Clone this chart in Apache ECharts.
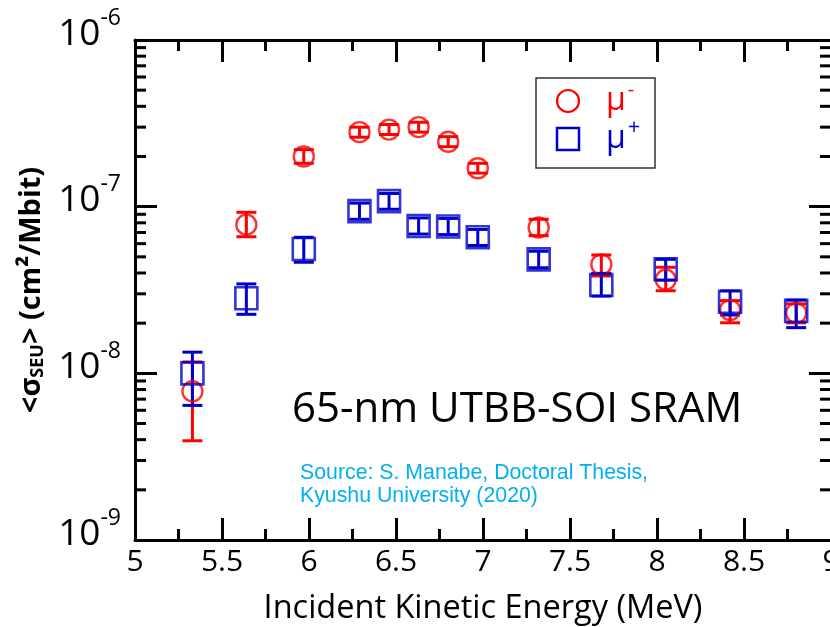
<!DOCTYPE html>
<html>
<head>
<meta charset="utf-8">
<script src="https://cdn.jsdelivr.net/npm/echarts@6/dist/echarts.min.js"></script>
<style>html,body{margin:0;padding:0;background:#fff}#c{width:830px;height:627px}</style>
</head>
<body>
<div id="c"></div>
<script>
// ---- data ----
const energy      = [5.33, 5.64, 5.97, 6.29, 6.46, 6.63, 6.80, 6.97, 7.32, 7.68, 8.05, 8.42, 8.80];
const muMinus     = [7.8e-9, 7.8e-8, 2.0e-7, 2.8e-7, 2.9e-7, 3.0e-7, 2.45e-7, 1.7e-7, 7.5e-8, 4.5e-8, 3.65e-8, 2.4e-8, 2.3e-8];
const muMinusLow  = [3.94e-9, 6.6e-8, 1.82e-7, 2.61e-7, 2.71e-7, 2.8e-7, 2.29e-7, 1.59e-7, 6.7e-8, 3.84e-8, 3.13e-8, 2.01e-8, 2.01e-8];
const muMinusHigh = [1.17e-8, 9.25e-8, 2.2e-7, 3.0e-7, 3.11e-7, 3.21e-7, 2.63e-7, 1.82e-7, 8.4e-8, 5.13e-8, 4.33e-8, 2.73e-8, 2.61e-8];
const muPlus      = [1.0e-8, 2.82e-8, 5.57e-8, 9.4e-8, 1.08e-7, 7.66e-8, 7.6e-8, 6.55e-8, 4.83e-8, 3.39e-8, 4.21e-8, 2.69e-8, 2.37e-8];
const muPlusLow   = [6.42e-9, 2.26e-8, 4.64e-8, 8.4e-8, 9.65e-8, 6.85e-8, 6.8e-8, 5.85e-8, 4.3e-8, 2.91e-8, 3.63e-8, 2.24e-8, 1.88e-8];
const muPlusHigh  = [1.34e-8, 3.44e-8, 6.55e-8, 1.05e-7, 1.2e-7, 8.56e-8, 8.5e-8, 7.3e-8, 5.4e-8, 3.98e-8, 4.83e-8, 3.12e-8, 2.75e-8];
const yMinorTicks = [2,3,4,5,6,7,8,9].flatMap(m => [1e-9, 1e-8, 1e-7].map(d => m * d));
const xMin = 5, xMax = 9, xStep = 0.5;
const yMin = 1e-9, yMax = 1e-6;

const RED = '#ff0000', BLUE = '#0000cc';
const FONT = '"Open Sans", "Noto Sans", sans-serif';

const chart = echarts.init(document.getElementById('c'), null, {renderer: 'canvas'});

function errRender(color) {
  return function (params, api) {
    const x = api.value(0);
    const lo = api.coord([x, api.value(1)]);
    const hi = api.coord([x, api.value(2)]);
    const hw = 10;
    const style = {stroke: color, lineWidth: 3};
    return {type: 'group', children: [
      {type: 'line', shape: {x1: lo[0], y1: lo[1], x2: hi[0], y2: hi[1]}, style},
      {type: 'line', shape: {x1: lo[0]-hw, y1: lo[1], x2: lo[0]+hw, y2: lo[1]}, style},
      {type: 'line', shape: {x1: hi[0]-hw, y1: hi[1], x2: hi[0]+hw, y2: hi[1]}, style}
    ]};
  };
}

const axisLine = {show: true, lineStyle: {color: '#000', width: 3}};
const tickStyle = {color: '#000', width: 3};

chart.setOption({
  animation: false,
  backgroundColor: '#fff',
  grid: {left: 135, top: 40, width: 696, height: 500, containLabel: false, outerBoundsMode: 'none'},
  xAxis: [
    {type: 'value', min: xMin, max: xMax, interval: xStep, position: 'bottom',
     axisLine, axisTick: {inside: true, length: 22, lineStyle: tickStyle},
     minorTick: {show: true, splitNumber: 2, length: 11, lineStyle: tickStyle},
     splitLine: {show: false},
     axisLabel: {fontFamily: FONT, fontSize: 30, color: '#000', margin: 7,
       formatter: v => String(Math.round(v*10)/10)},
     name: 'Incident Kinetic Energy (MeV)', nameLocation: 'middle', nameGap: 52,
     nameTextStyle: {fontFamily: FONT, fontSize: 32.5, color: '#000'}},
    {type: 'value', min: xMin, max: xMax, interval: xStep, position: 'top',
     axisLine, axisTick: {inside: true, length: 22, lineStyle: tickStyle},
     minorTick: {show: true, splitNumber: 2, length: 11, lineStyle: tickStyle},
     splitLine: {show: false}, axisLabel: {show: false}}
  ],
  yAxis: [
    {type: 'log', logBase: 10, min: yMin, max: yMax, position: 'left',
     axisLine, axisTick: {inside: true, length: 22, lineStyle: tickStyle},
     splitLine: {show: false},
     axisLabel: {margin: 14, color: '#000', padding: [0, 0, 12, 0],
       formatter: v => '{b|10}{s|' + Math.round(Math.log10(v)) + '}',
       rich: {b: {fontFamily: FONT, fontSize: 37, color: '#000'},
              s: {fontFamily: FONT, fontSize: 23, color: '#000', padding: [0,0,32,0]}}},
     name: '{a|<σ}{sub|SEU}{a|> (cm²/Mbit)}', nameLocation: 'middle', nameGap: 87, nameRotate: 90,
     nameTextStyle: {rich: {a: {fontFamily: FONT, fontSize: 29, fontWeight: 'bold', color: '#000'},
                            sub: {fontFamily: FONT, fontSize: 18, fontWeight: 'bold', color: '#000', padding: [14,0,0,0]}}}},
    {type: 'log', logBase: 10, min: yMin, max: yMax, position: 'right',
     axisLine, axisTick: {inside: true, length: 22, lineStyle: tickStyle},
     splitLine: {show: false}, axisLabel: {show: false}}
  ],
  series: [
    {type: 'custom', name: 'yminor', silent: true, clip: false,
     data: yMinorTicks.map(v => [xMin, v]),
     renderItem: (params, api) => {
       const l = api.coord([xMin, api.value(1)]);
       const r = api.coord([xMax, api.value(1)]);
       const style = {stroke: '#000', lineWidth: 3};
       return {type: 'group', children: [
         {type: 'line', shape: {x1: l[0], y1: l[1], x2: l[0]+11, y2: l[1]}, style},
         {type: 'line', shape: {x1: r[0], y1: r[1], x2: r[0]-11, y2: r[1]}, style}
       ]};
     }},
    {type: 'custom', name: 'μ- err', silent: true,
     data: energy.map((e, i) => [e, muMinusLow[i], muMinusHigh[i]]),
     renderItem: errRender(RED)},
    {type: 'scatter', name: 'μ-', symbol: 'circle', symbolSize: 20,
     itemStyle: {color: 'rgba(0,0,0,0)', borderColor: RED, borderWidth: 2.4},
     data: energy.map((e, i) => [e, muMinus[i]])},
    {type: 'custom', name: 'μ+ err', silent: true,
     data: energy.map((e, i) => [e, muPlusLow[i], muPlusHigh[i]]),
     renderItem: errRender(BLUE)},
    {type: 'scatter', name: 'μ+', symbol: 'rect', symbolSize: 22,
     itemStyle: {color: 'rgba(0,0,0,0)', borderColor: BLUE, borderWidth: 2.6},
     data: energy.map((e, i) => [e, muPlus[i]])}
  ],
  graphic: [
    {type: 'rect', shape: {x: 536, y: 78, width: 119, height: 90},
     style: {fill: '#fff', stroke: '#333', lineWidth: 1.5}, z: 100},
    {type: 'circle', shape: {cx: 568, cy: 101, r: 11},
     style: {fill: 'none', stroke: RED, lineWidth: 2.2}, z: 101},
    {type: 'rect', shape: {x: 557, y: 128, width: 22, height: 22},
     style: {fill: 'none', stroke: BLUE, lineWidth: 2.5}, z: 101},
    {type: 'text', x: 606, y: 101, z: 101,
     style: {text: '{m|μ}{s|-}', verticalAlign: 'middle',
       rich: {m: {fontFamily: FONT, fontSize: 32, fill: RED},
              s: {fontFamily: FONT, fontSize: 20, fill: RED, padding: [0,0,22,2]}}}},
    {type: 'text', x: 606, y: 139, z: 101,
     style: {text: '{m|μ}{s|+}', verticalAlign: 'middle',
       rich: {m: {fontFamily: FONT, fontSize: 32, fill: BLUE},
              s: {fontFamily: FONT, fontSize: 22, fill: BLUE, padding: [0,0,22,2]}}}},
    {type: 'text', x: 292, y: 410, z: 50,
     style: {text: '65-nm UTBB-SOI SRAM', fontFamily: FONT, fontSize: 42, fill: '#000', verticalAlign: 'middle'}},
    {type: 'text', x: 300, y: 473, z: 50,
     style: {text: 'Source: S. Manabe, Doctoral Thesis,', fontFamily: '"Liberation Sans", Arial, sans-serif', fontSize: 21.3, fill: '#00b0f0', verticalAlign: 'middle'}},
    {type: 'text', x: 300, y: 496, z: 50,
     style: {text: 'Kyushu University (2020)', fontFamily: '"Liberation Sans", Arial, sans-serif', fontSize: 21.3, fill: '#00b0f0', verticalAlign: 'middle'}}
  ]
});
</script>
</body>
</html>
